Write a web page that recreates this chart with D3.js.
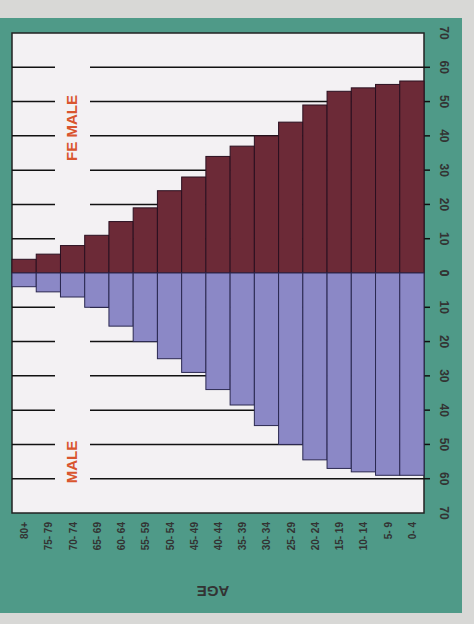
<!DOCTYPE html><html><head><script src="https://cdn.jsdelivr.net/npm/d3@7"></script>
<style>body{margin:0;background:#d8d8d6}</style></head><body><svg width="474" height="624"></svg><script>
const ages=["80+","75- 79","70- 74","65- 69","60- 64","55- 59","50- 54","45- 49","40- 44","35- 39","30- 34","25- 29","20- 24","15- 19","10- 14","5- 9","0- 4"];
const female=[4,5.5,8,11,15,19,24,28,34,37,40,44,49,53,54,55,56];
const male=[4,5.5,7,10,15.5,20,25,29,34,38.5,44.5,50,54.5,57,58,59,59];
const ticks=[0,10,20,30,40,50,60,70];
const svg=d3.select("svg");
svg.append("rect").attr("x",0).attr("y",18).attr("width",462).attr("height",595).attr("fill","#4f9a88");
const L=12,R=424;
const x=d3.scaleBand().domain(ages).range([L,R]);
const yf=d3.scaleLinear().domain([0,70]).range([273,33]);
const ym=d3.scaleLinear().domain([0,70]).range([273,513]);
svg.append("rect").attr("x",L).attr("y",33).attr("width",R-L).attr("height",480).attr("fill","#f3f1f3").attr("stroke","#222").attr("stroke-width",1.5);
const g=svg.append("g");
ticks.filter(t=>t>0&&t<70).forEach(t=>{[yf(t),ym(t)].forEach(y=>{
 g.append("line").attr("x1",L).attr("x2",55).attr("y1",y).attr("y2",y).attr("stroke","#111").attr("stroke-width",1.5);
 g.append("line").attr("x1",90).attr("x2",R).attr("y1",y).attr("y2",y).attr("stroke","#111").attr("stroke-width",1.5);
 g.append("line").attr("x1",R).attr("x2",R+6).attr("y1",y).attr("y2",y).attr("stroke","#111").attr("stroke-width",1.5);
});});
g.selectAll(".f").data(ages).join("rect").attr("x",d=>x(d)).attr("width",x.bandwidth()).attr("y",(d,i)=>yf(female[i])).attr("height",(d,i)=>273-yf(female[i])).attr("fill","#6c2a37").attr("stroke","#2a1020");
g.selectAll(".m").data(ages).join("rect").attr("x",d=>x(d)).attr("width",x.bandwidth()).attr("y",273).attr("height",(d,i)=>ym(male[i])-273).attr("fill","#8b88c6").attr("stroke","#2a2850");
ticks.forEach(t=>{[yf(t),ym(t)].forEach(y=>{
 svg.append("text").attr("transform",`translate(440,${y}) rotate(90)`).attr("text-anchor","middle").attr("font-family","Liberation Sans").attr("font-weight","bold").attr("font-size",12).attr("fill","#333").text(t);
});});
ages.forEach(a=>{svg.append("text").attr("transform",`translate(${x(a)+x.bandwidth()/2+4},522) rotate(-90)`).attr("text-anchor","end").attr("font-family","Liberation Sans").attr("font-weight","bold").attr("font-size",10).attr("fill","#333").text(a);});
svg.append("text").attr("transform","translate(213,586) rotate(180)").attr("text-anchor","middle").attr("font-family","Liberation Sans").attr("font-weight","bold").attr("font-size",15).attr("fill","#333").text("AGE");
[["FE MALE",128],["MALE",462]].forEach(([t,y])=>svg.append("text").attr("transform",`translate(77,${y}) rotate(-90)`).attr("text-anchor","middle").attr("font-family","Liberation Sans").attr("font-weight","bold").attr("font-size",15).attr("fill","#d9552e").text(t));
</script></body></html>
